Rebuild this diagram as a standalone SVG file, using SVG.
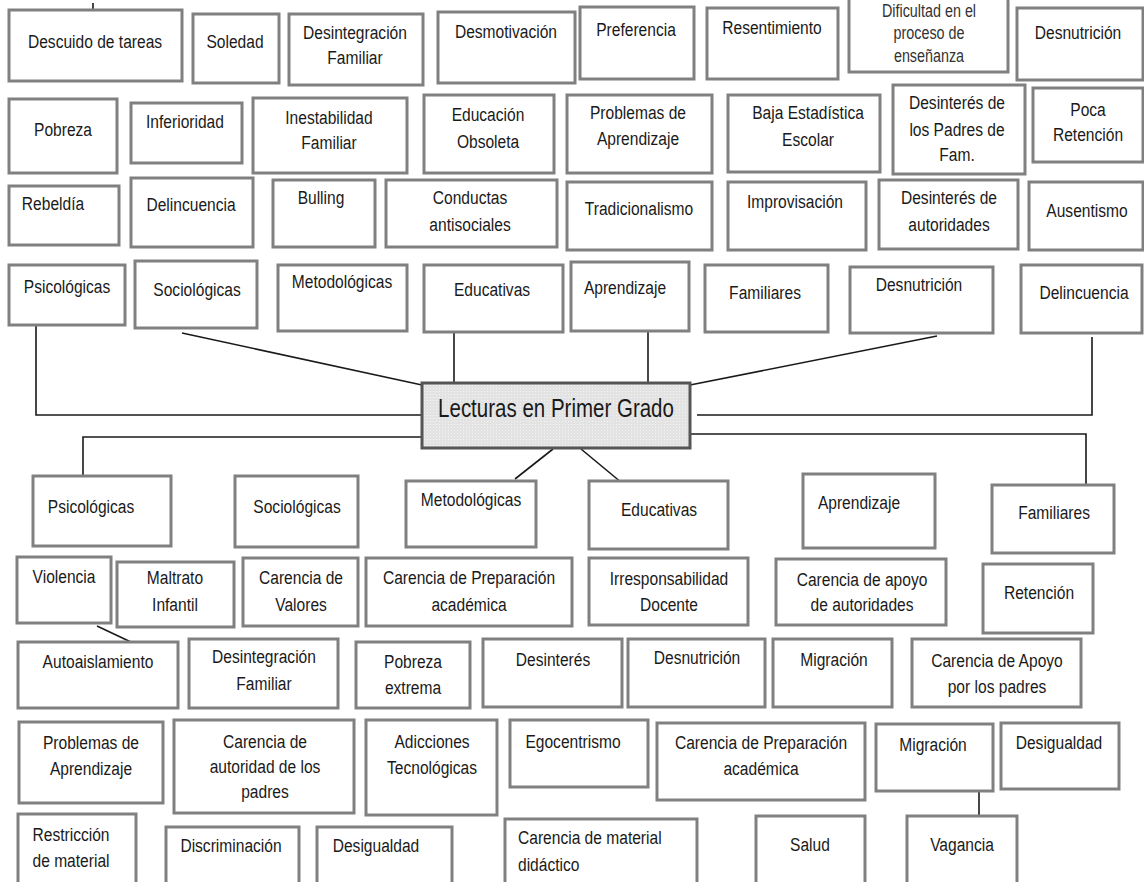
<svg xmlns="http://www.w3.org/2000/svg" width="1144" height="882" viewBox="0 0 1144 882">
<style>
.b{fill:#fff;stroke:#808080;stroke-width:3}
.t{font-family:"Liberation Sans",Arial,sans-serif;font-size:19px;fill:#1a1a1a;text-anchor:middle;transform-box:fill-box;transform-origin:center;transform:scaleX(0.82)}
.s{font-size:17.5px;fill:#333}
.l{text-anchor:start;transform-origin:left center}
.c{fill:none;stroke:#1a1a1a;stroke-width:1.6}
</style>
<defs>
<pattern id="dots" width="3" height="3" patternUnits="userSpaceOnUse">
<rect width="3" height="3" fill="#e3e3e3"/>
<circle cx="1.5" cy="1.5" r="0.6" fill="#f6f6f6"/>
</pattern>
</defs>
<rect width="1144" height="882" fill="#fff"/>
<g id="connectors">
<line class="c" x1="93" y1="3" x2="93" y2="9"/>
<line class="c" x1="182" y1="333" x2="422" y2="385"/>
<polyline class="c" points="36,325 36,415 422,415"/>
<line class="c" x1="454" y1="333" x2="454" y2="383"/>
<line class="c" x1="648" y1="331" x2="648" y2="383"/>
<line class="c" x1="937" y1="336" x2="690" y2="385"/>
<polyline class="c" points="1092,337 1092,415 697,415"/>
<polyline class="c" points="422,437 83,437 83,481"/>
<polyline class="c" points="690,434 1086,434 1086,485"/>
<line class="c" x1="553" y1="449" x2="515" y2="479"/>
<line class="c" x1="581" y1="449" x2="622" y2="483"/>
<line class="c" x1="97" y1="626" x2="133" y2="643"/>
<line class="c" x1="979" y1="791" x2="979" y2="823"/>
</g>
<g id="n1"><rect class="b" x="9" y="10" width="173" height="71"/><text class="t" x="95" y="48">Descuido de tareas</text></g>
<g id="n2"><rect class="b" x="193" y="14" width="86" height="69"/><text class="t" x="235" y="48">Soledad</text></g>
<g id="n3"><rect class="b" x="289" y="14" width="134" height="71"/><text class="t" x="355" y="39">Desintegración</text><text class="t" x="355" y="64">Familiar</text></g>
<g id="n4"><rect class="b" x="438" y="12" width="137" height="71"/><text class="t" x="506" y="38">Desmotivación</text></g>
<g id="n5"><rect class="b" x="580" y="7" width="114" height="72"/><text class="t" x="636" y="36">Preferencia</text></g>
<g id="n6"><rect class="b" x="707" y="8" width="131" height="71"/><text class="t" x="772" y="34">Resentimiento</text></g>
<g id="n7"><rect class="b" x="849" y="-2" width="159" height="74"/><text class="t s" x="929" y="17">Dificultad en el</text><text class="t s" x="929" y="39">proceso de</text><text class="t s" x="929" y="62">enseñanza</text></g>
<g id="n8"><rect class="b" x="1017" y="8" width="126" height="72"/><text class="t" x="1078" y="39">Desnutrición</text></g>
<g id="n9"><rect class="b" x="9" y="99" width="108" height="74"/><text class="t" x="63" y="136">Pobreza</text></g>
<g id="n10"><rect class="b" x="131" y="103" width="111" height="60"/><text class="t" x="185" y="128">Inferioridad</text></g>
<g id="n11"><rect class="b" x="253" y="98" width="154" height="75"/><text class="t" x="329" y="124">Inestabilidad</text><text class="t" x="329" y="149">Familiar</text></g>
<g id="n12"><rect class="b" x="424" y="95" width="130" height="78"/><text class="t" x="488" y="121">Educación</text><text class="t" x="488" y="148">Obsoleta</text></g>
<g id="n13"><rect class="b" x="567" y="95" width="145" height="78"/><text class="t" x="638" y="119">Problemas de</text><text class="t" x="638" y="145">Aprendizaje</text></g>
<g id="n14"><rect class="b" x="728" y="95" width="152" height="77"/><text class="t" x="808" y="119">Baja Estadística</text><text class="t" x="808" y="146">Escolar</text></g>
<g id="n15"><rect class="b" x="893" y="85" width="132" height="89"/><text class="t" x="957" y="109">Desinterés de</text><text class="t" x="957" y="136">los Padres de</text><text class="t" x="957" y="161">Fam.</text></g>
<g id="n16"><rect class="b" x="1033" y="88" width="110" height="74"/><text class="t" x="1088" y="116">Poca</text><text class="t" x="1088" y="141">Retención</text></g>
<g id="n17"><rect class="b" x="9" y="186" width="110" height="59"/><text class="t" x="53" y="210">Rebeldía</text></g>
<g id="n18"><rect class="b" x="131" y="178" width="122" height="69"/><text class="t" x="191" y="211">Delincuencia</text></g>
<g id="n19"><rect class="b" x="273" y="180" width="102" height="67"/><text class="t" x="321" y="204">Bulling</text></g>
<g id="n20"><rect class="b" x="386" y="180" width="171" height="67"/><text class="t" x="470" y="204">Conductas</text><text class="t" x="470" y="231">antisociales</text></g>
<g id="n21"><rect class="b" x="567" y="182" width="145" height="68"/><text class="t" x="639" y="215">Tradicionalismo</text></g>
<g id="n22"><rect class="b" x="728" y="182" width="138" height="68"/><text class="t" x="795" y="208">Improvisación</text></g>
<g id="n23"><rect class="b" x="879" y="180" width="139" height="69"/><text class="t" x="949" y="204">Desinterés de</text><text class="t" x="949" y="231">autoridades</text></g>
<g id="n24"><rect class="b" x="1029" y="182" width="114" height="68"/><text class="t" x="1087" y="217">Ausentismo</text></g>
<g id="n25"><rect class="b" x="9" y="265" width="116" height="60"/><text class="t" x="67" y="293">Psicológicas</text></g>
<g id="n26"><rect class="b" x="135" y="261" width="122" height="67"/><text class="t" x="197" y="296">Sociológicas</text></g>
<g id="n27"><rect class="b" x="278" y="265" width="129" height="66"/><text class="t" x="342" y="288">Metodológicas</text></g>
<g id="n28"><rect class="b" x="424" y="265" width="139" height="67"/><text class="t" x="492" y="296">Educativas</text></g>
<g id="n29"><rect class="b" x="571" y="262" width="118" height="69"/><text class="t" x="625" y="294">Aprendizaje</text></g>
<g id="n30"><rect class="b" x="705" y="265" width="123" height="67"/><text class="t" x="765" y="299">Familiares</text></g>
<g id="n31"><rect class="b" x="850" y="267" width="143" height="66"/><text class="t" x="919" y="291">Desnutrición</text></g>
<g id="n32"><rect class="b" x="1021" y="265" width="121" height="68"/><text class="t" x="1084" y="299">Delincuencia</text></g>
<g id="center"><rect x="422" y="383" width="268" height="65" fill="url(#dots)" stroke="#555" stroke-width="3"/><text class="t" x="556" y="417" style="font-size:25px">Lecturas en Primer Grado</text></g>
<g id="n33"><rect class="b" x="33" y="476" width="138" height="70"/><text class="t" x="91" y="513">Psicológicas</text></g>
<g id="n34"><rect class="b" x="235" y="476" width="123" height="71"/><text class="t" x="297" y="513">Sociológicas</text></g>
<g id="n35"><rect class="b" x="406" y="481" width="130" height="66"/><text class="t" x="471" y="506">Metodológicas</text></g>
<g id="n36"><rect class="b" x="589" y="481" width="139" height="68"/><text class="t" x="659" y="516">Educativas</text></g>
<g id="n37"><rect class="b" x="803" y="474" width="132" height="74"/><text class="t" x="859" y="509">Aprendizaje</text></g>
<g id="n38"><rect class="b" x="992" y="485" width="122" height="68"/><text class="t" x="1054" y="519">Familiares</text></g>
<g id="n39"><rect class="b" x="17" y="557" width="94" height="66"/><text class="t" x="64" y="583">Violencia</text></g>
<g id="n40"><rect class="b" x="117" y="562" width="117" height="65"/><text class="t" x="175" y="584">Maltrato</text><text class="t" x="175" y="611">Infantil</text></g>
<g id="n41"><rect class="b" x="243" y="558" width="115" height="68"/><text class="t" x="301" y="584">Carencia de</text><text class="t" x="301" y="611">Valores</text></g>
<g id="n42"><rect class="b" x="366" y="558" width="206" height="68"/><text class="t" x="469" y="584">Carencia de Preparación</text><text class="t" x="469" y="611">académica</text></g>
<g id="n43"><rect class="b" x="589" y="558" width="159" height="67"/><text class="t" x="669" y="585">Irresponsabilidad</text><text class="t" x="669" y="611">Docente</text></g>
<g id="n44"><rect class="b" x="776" y="559" width="170" height="66"/><text class="t" x="862" y="586">Carencia de apoyo</text><text class="t" x="862" y="611">de autoridades</text></g>
<g id="n45"><rect class="b" x="983" y="564" width="110" height="69"/><text class="t" x="1039" y="599">Retención</text></g>
<g id="n46"><rect class="b" x="18" y="642" width="160" height="66"/><text class="t" x="98" y="668">Autoaislamiento</text></g>
<g id="n47"><rect class="b" x="189" y="639" width="149" height="69"/><text class="t" x="264" y="663">Desintegración</text><text class="t" x="264" y="690">Familiar</text></g>
<g id="n48"><rect class="b" x="356" y="642" width="114" height="66"/><text class="t" x="413" y="668">Pobreza</text><text class="t" x="413" y="694">extrema</text></g>
<g id="n49"><rect class="b" x="483" y="639" width="139" height="68"/><text class="t" x="553" y="666">Desinterés</text></g>
<g id="n50"><rect class="b" x="628" y="639" width="137" height="68"/><text class="t" x="697" y="664">Desnutrición</text></g>
<g id="n51"><rect class="b" x="773" y="639" width="119" height="68"/><text class="t" x="834" y="666">Migración</text></g>
<g id="n52"><rect class="b" x="912" y="639" width="169" height="68"/><text class="t" x="997" y="667">Carencia de Apoyo</text><text class="t" x="997" y="693">por los padres</text></g>
<g id="n53"><rect class="b" x="19" y="722" width="144" height="81"/><text class="t" x="91" y="749">Problemas de</text><text class="t" x="91" y="775">Aprendizaje</text></g>
<g id="n54"><rect class="b" x="174" y="720" width="180" height="93"/><text class="t" x="265" y="748">Carencia de</text><text class="t" x="265" y="773">autoridad de los</text><text class="t" x="265" y="798">padres</text></g>
<g id="n55"><rect class="b" x="366" y="720" width="131" height="95"/><text class="t" x="432" y="748">Adicciones</text><text class="t" x="432" y="774">Tecnológicas</text></g>
<g id="n56"><rect class="b" x="510" y="720" width="138" height="67"/><text class="t" x="573" y="748">Egocentrismo</text></g>
<g id="n57"><rect class="b" x="657" y="723" width="208" height="77"/><text class="t" x="761" y="749">Carencia de Preparación</text><text class="t" x="761" y="775">académica</text></g>
<g id="n58"><rect class="b" x="876" y="724" width="117" height="67"/><text class="t" x="933" y="751">Migración</text></g>
<g id="n59"><rect class="b" x="1001" y="723" width="118" height="66"/><text class="t" x="1059" y="749">Desigualdad</text></g>
<g id="n60"><rect class="b" x="18" y="814" width="118" height="80"/><text class="t" x="71" y="841">Restricción</text><text class="t" x="71" y="867">de material</text></g>
<g id="n61"><rect class="b" x="166" y="827" width="133" height="60"/><text class="t" x="231" y="852">Discriminación</text></g>
<g id="n62"><rect class="b" x="317" y="827" width="135" height="60"/><text class="t" x="376" y="852">Desigualdad</text></g>
<g id="n63"><rect class="b" x="505" y="819" width="192" height="70"/><text class="t l" x="518" y="844">Carencia de material</text><text class="t l" x="518" y="871">didáctico</text></g>
<g id="n64"><rect class="b" x="756" y="816" width="109" height="70"/><text class="t" x="810" y="851">Salud</text></g>
<g id="n65"><rect class="b" x="907" y="816" width="110" height="70"/><text class="t" x="962" y="851">Vagancia</text></g>
</svg>
